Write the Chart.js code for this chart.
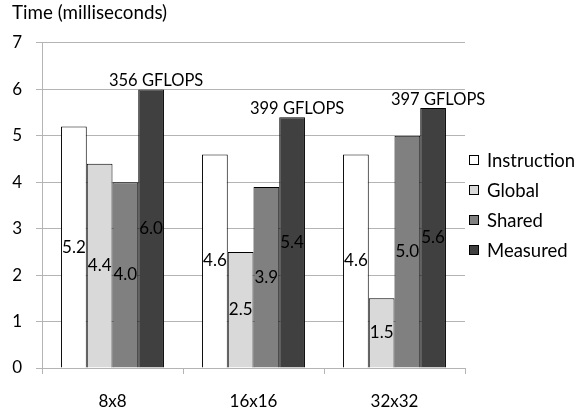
<!DOCTYPE html>
<html>
<head>
<meta charset="utf-8">
<script src="https://cdn.jsdelivr.net/npm/chart.js@4/dist/chart.umd.min.js"></script>
<style>
  html, body { margin: 0; padding: 0; background: #fff; }
  #wrap { width: 576px; height: 415px; }
</style>
</head>
<body>
<div id="wrap"><canvas id="c"></canvas></div>
<script>
// Block sizes
const categories = ['8x8', '16x16', '32x32'];
// Time per series, in milliseconds
const instruction = [5.2, 4.6, 4.6];
const global = [4.4, 2.5, 1.5];
const shared = [4.0, 3.9, 5.0];
const measured = [6.0, 5.4, 5.6];
// Achieved throughput for each measured run
const gflops = [356, 399, 397];
const yTicks = [0, 1, 2, 3, 4, 5, 6, 7];

const FONT = 'Lato, "DejaVu Sans", sans-serif';
const GRID = '#b4b4b4';

// Value printed in the middle of every bar
const barValues = {
  id: 'barValues',
  afterDatasetsDraw(chart) {
    const ctx = chart.ctx;
    ctx.save();
    ctx.font = '17px ' + FONT;
    ctx.fillStyle = '#000';
    ctx.textAlign = 'center';
    ctx.textBaseline = 'middle';
    chart.data.datasets.forEach((ds, i) => {
      chart.getDatasetMeta(i).data.forEach((bar, j) => {
        ctx.fillText(ds.data[j].toFixed(1), bar.x, (bar.y + bar.base) / 2);
      });
    });
    ctx.restore();
  }
};

// GFLOPS note above each measured bar
const gflopsNotes = {
  id: 'gflopsNotes',
  afterDatasetsDraw(chart) {
    const ctx = chart.ctx;
    const meta = chart.getDatasetMeta(3);
    ctx.save();
    ctx.font = '16.5px ' + FONT;
    ctx.fillStyle = '#000';
    ctx.textAlign = 'center';
    ctx.textBaseline = 'alphabetic';
    meta.data.forEach((bar, j) => {
      ctx.fillText(gflops[j] + ' GFLOPS', bar.x + 5, bar.y - 3);
    });
    ctx.restore();
  }
};

// Legend column on the right
const sideLegend = {
  id: 'sideLegend',
  afterDraw(chart) {
    const ctx = chart.ctx;
    const x0 = chart.chartArea.right + 4;
    ctx.save();
    ctx.font = '18.5px ' + FONT;
    ctx.textAlign = 'left';
    ctx.textBaseline = 'middle';
    chart.data.datasets.forEach((ds, i) => {
      const cy = 160 + i * 30;
      ctx.fillStyle = ds.backgroundColor;
      ctx.fillRect(x0 + 0.5, cy - 4.5, 9, 9);
      ctx.strokeStyle = '#000';
      ctx.lineWidth = 1;
      ctx.strokeRect(x0 + 0.5, cy - 4.5, 9, 9);
      ctx.fillStyle = '#000';
      ctx.fillText(ds.label, x0 + 18, cy + 1);
    });
    ctx.restore();
  }
};

const mk = (label, data, color) => ({
  label, data,
  backgroundColor: color,
  borderColor: '#000',
  borderWidth: 1,
  barPercentage: 1.0,
  categoryPercentage: 0.73
});

new Chart(document.getElementById('c'), {
  type: 'bar',
  data: {
    labels: categories,
    datasets: [
      mk('Instruction', instruction, '#ffffff'),
      mk('Global', global, '#d9d9d9'),
      mk('Shared', shared, '#808080'),
      mk('Measured', measured, '#404040')
    ]
  },
  options: {
    responsive: true,
    maintainAspectRatio: false,
    devicePixelRatio: 1,
    animation: false,
    layout: { padding: { left: 12, right: 111, top: 0, bottom: 0 } },
    plugins: {
      legend: { display: false },
      tooltip: { enabled: false },
      title: {
        display: true,
        text: 'Time (milliseconds)',
        align: 'start',
        color: '#000',
        font: { family: FONT, size: 18.8, weight: 'normal' },
        padding: { top: 2, bottom: 18.4 }
      }
    },
    scales: {
      x: {
        offset: true,
        grid: {
          display: true,
          drawOnChartArea: false,
          drawTicks: true,
          tickLength: 6,
          color: GRID
        },
        border: { display: true, color: GRID },
        ticks: { color: '#000', padding: 17, font: { family: FONT, size: 17 } },
        afterFit(scale) { scale.height = 47; }
      },
      y: {
        min: 0,
        max: 7,
        afterBuildTicks(scale) { scale.ticks = yTicks.map(v => ({ value: v })); },
        grid: { color: GRID, tickLength: 6 },
        border: { display: true, color: GRID },
        ticks: { color: '#000', padding: 14, font: { family: FONT, size: 17 } },
        afterFit(scale) { scale.width = 30; }
      }
    }
  },
  plugins: [barValues, gflopsNotes, sideLegend]
});
</script>
</body>
</html>
